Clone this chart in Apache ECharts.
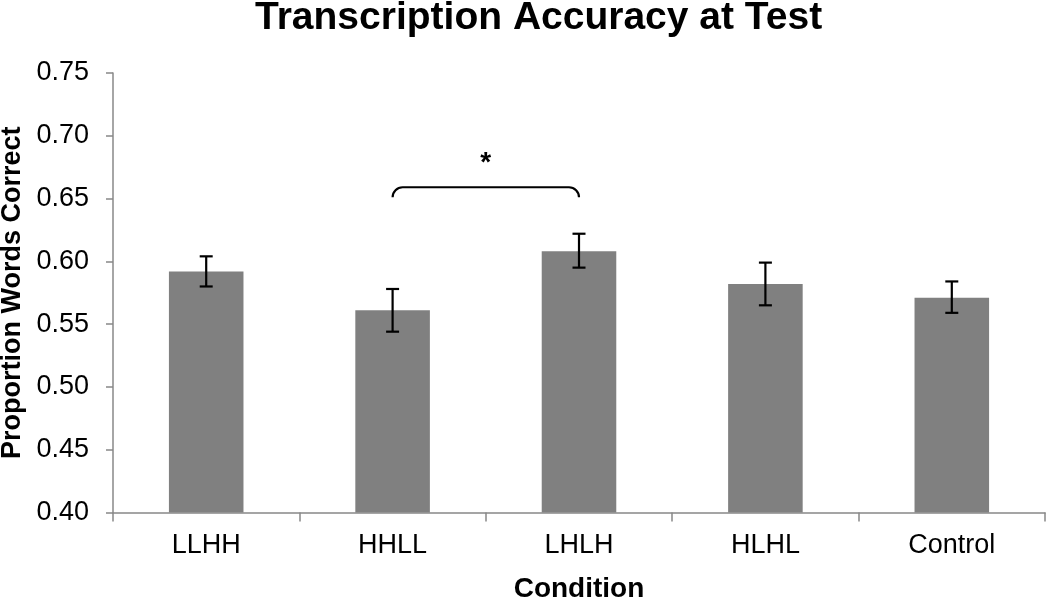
<!DOCTYPE html>
<html>
<head>
<meta charset="utf-8">
<script src="https://cdn.jsdelivr.net/npm/echarts@6/dist/echarts.min.js"></script>
<style>
html,body{margin:0;padding:0;background:#fff;}
#chart{width:1050px;height:597px;}
</style>
</head>
<body>
<div id="chart"></div>
<script>
const categories = ['LLHH', 'HHLL', 'LHLH', 'HLHL', 'Control'];
const meanValues = [0.592, 0.561, 0.608, 0.582, 0.571];
const errLower = [0.580, 0.544, 0.595, 0.565, 0.559];
const errUpper = [0.604, 0.578, 0.622, 0.599, 0.584];
const sigFrom = [1];
const sigTo = [2];
const sigLevel = [0.659];
const sigLabel = ['*'];
const yTicks = { min: 0.40, max: 0.75, step: 0.05 };

const FONT = '"Liberation Sans", Arial, Helvetica, sans-serif';

const errData = categories.map((c, i) => [i, errLower[i], errUpper[i]]);
const sigData = sigFrom.map((f, i) => [f, sigTo[i], sigLevel[i], sigLabel[i]]);

const chart = echarts.init(document.getElementById('chart'), null, { renderer: 'canvas' });
chart.setOption({
  backgroundColor: '#ffffff',
  animation: false,
  title: {
    text: 'Transcription Accuracy at Test',
    left: 250,
    top: -6,
    textStyle: { fontFamily: FONT, fontWeight: 'bold', fontSize: 39, color: '#000' }
  },
  grid: { left: 113, right: 5, top: 73, bottom: 84.5, containLabel: false, outerBoundsMode: 'none' },
  xAxis: {
    type: 'category',
    data: categories,
    name: 'Condition',
    nameLocation: 'middle',
    nameGap: 63,
    nameTextStyle: { fontFamily: FONT, fontWeight: 'bold', fontSize: 28, color: '#000' },
    axisLine: { lineStyle: { color: '#888888', width: 1.5 } },
    axisTick: { show: true, length: 9, lineStyle: { color: '#888888', width: 1.5 } },
    axisLabel: { fontFamily: FONT, fontSize: 27, color: '#000', margin: 20 },
    splitLine: { show: false }
  },
  yAxis: {
    type: 'value',
    min: yTicks.min,
    max: yTicks.max,
    interval: yTicks.step,
    name: 'Proportion Words Correct',
    nameLocation: 'middle',
    nameRotate: 90,
    nameGap: 83,
    nameTextStyle: { fontFamily: FONT, fontWeight: 'bold', fontSize: 27, color: '#000' },
    axisLine: { show: true, lineStyle: { color: '#888888', width: 1.5 } },
    axisTick: { show: true, length: 7, lineStyle: { color: '#888888', width: 1.5 } },
    axisLabel: { fontFamily: FONT, fontSize: 27, color: '#000', margin: 24,
      formatter: v => v.toFixed(2) },
    splitLine: { show: false }
  },
  series: [
    {
      type: 'bar',
      data: meanValues,
      barWidth: '40%',
      itemStyle: { color: '#808080' },
      z: 2
    },
    {
      type: 'custom',
      data: errData,
      z: 5,
      renderItem: function (params, api) {
        const lo = api.coord([api.value(0), api.value(1)]);
        const hi = api.coord([api.value(0), api.value(2)]);
        const hw = 6.5;
        const st = { stroke: '#000', lineWidth: 2.2 };
        return {
          type: 'group',
          children: [
            { type: 'line', shape: { x1: lo[0], y1: lo[1], x2: hi[0], y2: hi[1] }, style: st },
            { type: 'line', shape: { x1: lo[0] - hw, y1: lo[1], x2: lo[0] + hw, y2: lo[1] }, style: st },
            { type: 'line', shape: { x1: hi[0] - hw, y1: hi[1], x2: hi[0] + hw, y2: hi[1] }, style: st }
          ]
        };
      }
    },
    {
      type: 'custom',
      data: sigData,
      z: 5,
      renderItem: function (params, api) {
        const a = api.coord([api.value(0), api.value(2)]);
        const b = api.coord([api.value(1), api.value(2)]);
        const x1 = a[0], x2 = b[0], y = a[1];
        const r = 10, k = 0.552 * r;
        const d = 'M' + x1 + ' ' + (y + r) +
          ' C' + x1 + ' ' + (y + r - k) + ' ' + (x1 + r - k) + ' ' + y + ' ' + (x1 + r) + ' ' + y +
          ' L' + (x2 - r) + ' ' + y +
          ' C' + (x2 - r + k) + ' ' + y + ' ' + x2 + ' ' + (y + r - k) + ' ' + x2 + ' ' + (y + r);
        return {
          type: 'group',
          children: [
            { type: 'path', shape: { pathData: d }, style: { stroke: '#000', lineWidth: 2.2, fill: null } },
            { type: 'text', style: { text: sigLabel[params.dataIndex], x: (x1 + x2) / 2, y: y - 24,
              align: 'center', verticalAlign: 'middle', font: 'bold 28px ' + FONT, fill: '#000' } }
          ]
        };
      }
    }
  ]
});
</script>
</body>
</html>
